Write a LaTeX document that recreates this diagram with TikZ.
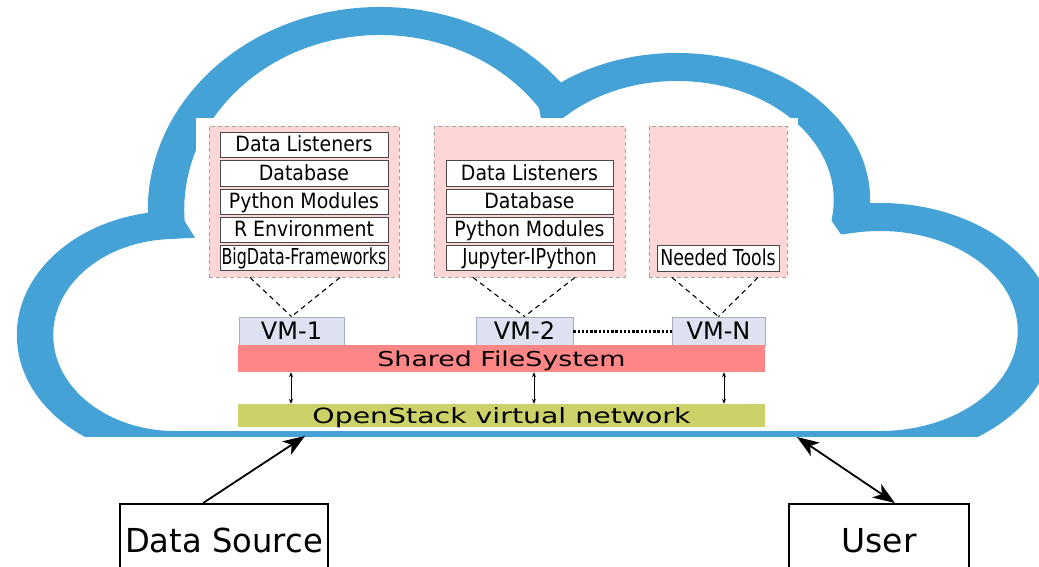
\documentclass[tikz,border=0pt]{standalone}
\usepackage{fontspec}
\setmainfont{DejaVu Sans}
\usetikzlibrary{arrows.meta}
\definecolor{cloudblue}{HTML}{45A2D6}
\definecolor{toolpink}{HTML}{FFD6D6}
\definecolor{tooledge}{HTML}{A3A39B}
\definecolor{vmfill}{HTML}{DDE1F0}
\definecolor{vmedge}{HTML}{A7ADC0}
\definecolor{fsred}{HTML}{FF8686}
\definecolor{netolive}{HTML}{CCD267}
% horizontal squeeze / stretch of a label
\newcommand{\hsq}[2]{\scalebox{#1}[1]{#2}}

\begin{document}
\begin{tikzpicture}[x=1pt, y=-1pt,
  toolset/.style={draw=tooledge, fill=toolpink, dash pattern=on 4pt off 3pt,
    line width=0.9pt, minimum height=151pt, inner sep=0pt},
  layer/.style={draw=black!72, fill=white, line width=1pt, minimum height=25pt,
    inner sep=0pt, font=\fontsize{21}{23}\selectfont, text height=15pt, text depth=2pt},
  condensed/.style={font=\fontsize{22}{24}\selectfont, text height=16pt, text depth=2pt},
  vm/.style={draw=vmedge, fill=vmfill, line width=0.9pt, minimum height=28pt,
    inner sep=0pt, font=\fontsize{24}{26}\selectfont, text height=18.5pt, text depth=1pt},
  bar/.style={minimum width=527pt, inner sep=0pt, text height=16pt, text depth=1pt},
  endpoint/.style={draw=black, line width=1.8pt, fill=white, inner sep=0pt,
    minimum height=72pt, font=\fontsize{33}{36}\selectfont, text height=25pt, text depth=1pt},
  link/.style={black, dash pattern=on 5pt off 4pt, line width=1.1pt},
  bigtip/.tip={Stealth[length=22pt, width=16pt, inset=6pt]},
  smalltip/.tip={Stealth[length=5pt, width=4pt]}]

\useasboundingbox (0,0) rectangle (1039,567);

% the cloud outline, cut flat at its base
\begin{scope}
  \clip (0,0) rectangle (1039,436);
  \begin{scope}[transform canvas={xscale=1.3}, x=0.769231pt]
    \draw[cloudblue, line width=28pt, line join=miter, miter limit=20]
      (175,445) arc[start angle=90, end angle=266.7, x radius=140, y radius=110]
      -- (166.7,224.8) arc[start angle=175.5, end angle=325.5, x radius=214, y radius=189]
      -- (556.5,103.5) arc[start angle=226.5, end angle=367.8, x radius=175, y radius=133]
      -- (851,219) arc[start angle=259.3, end angle=450, x radius=156, y radius=114]
      -- cycle;
  \end{scope}
\end{scope}

% inner panel
\fill[white] (196,118) rectangle (798,430);

% software stacks
\node[toolset, minimum width=190pt] (set1) at (304,201.5) {};
\node[toolset, minimum width=191pt] (set2) at (529.5,201.5) {};
\node[toolset, minimum width=138pt] (set3) at (718,201.5) {};

\node[layer, minimum width=168pt] (a1) at (304,145.5) {\hsq{0.9}{Data Listeners}};
\node[layer, minimum width=168pt] (a2) at (304,173.5) {\hsq{0.9}{Database}};
\node[layer, minimum width=168pt] (a3) at (304,201.5) {\hsq{0.9}{Python Modules}};
\node[layer, minimum width=168pt] (a4) at (304,229.5) {\hsq{0.9}{R Environment}};
\node[layer, condensed, minimum width=168pt] (a5) at (304,257.5) {\hsq{0.72}{BigData-Frameworks}};

\node[layer, minimum width=167pt] (b1) at (529.5,173.5) {\hsq{0.9}{Data Listeners}};
\node[layer, minimum width=167pt] (b2) at (529.5,201.5) {\hsq{0.9}{Database}};
\node[layer, minimum width=167pt] (b3) at (529.5,229.5) {\hsq{0.9}{Python Modules}};
\node[layer, condensed, minimum width=167pt] (b4) at (529.5,257.5) {\hsq{0.8}{Jupyter-IPython}};

\node[layer, condensed, minimum width=122pt, minimum height=26pt] (c1) at (718,258) {\hsq{0.79}{Needed Tools}};

% virtual machines
\node[vm, minimum width=105pt] (vm1) at (291.5,331) {VM-1};
\node[vm, minimum width=97pt] (vm2) at (524.5,331) {VM-2};
\node[vm, minimum width=93pt] (vmn) at (718.5,331) {VM-N};

\draw[link] ([xshift=-54pt]set1.south) -- (vm1.north);
\draw[link] ([xshift=36pt]set1.south) -- (vm1.north);
\draw[link] ([xshift=-56.5pt]set2.south) -- (vm2.north);
\draw[link] ([xshift=45.5pt]set2.south) -- (vm2.north);
\draw[link] ([xshift=-46pt]set3.south) -- (vmn.north);
\draw[link] ([xshift=40pt]set3.south) -- (vmn.north);

\draw[black, line width=3pt, dash pattern=on 2.4pt off 1.8pt] (vm2.east) -- (vmn.west);

% shared layers
\node[bar, fill=fsred, minimum height=27pt, font=\fontsize{20.5}{23}\selectfont]
  (sfs) at (501.5,358.5) {\hsq{1.31}{Shared FileSystem}};
\node[bar, fill=netolive, minimum height=23pt, font=\fontsize{21}{23}\selectfont]
  (net) at (501.5,415.5) {\hsq{1.35}{OpenStack virtual network}};

\draw[{smalltip}-{smalltip}, line width=0.8pt] ([xshift=-210.5pt]sfs.south) -- ([xshift=-210.5pt]net.north);
\draw[{smalltip}-{smalltip}, line width=0.8pt] ([xshift=32.5pt]sfs.south) -- ([xshift=32.5pt]net.north);
\draw[{smalltip}-{smalltip}, line width=0.8pt] ([xshift=222.5pt]sfs.south) -- ([xshift=222.5pt]net.north);

% outside actors
\node[endpoint, minimum width=208pt] (ds) at (224,540) {\hsq{0.975}{Data Source}};
\node[endpoint, minimum width=180pt] (usr) at (879,540) {User};

\coordinate (dsin) at (305,436);
\coordinate (usrio) at (797,437);

\draw[-{bigtip}, line width=1.8pt] ([xshift=-21pt]ds.north) -- (dsin);
\draw[{bigtip}-{bigtip}, line width=1.8pt] (usrio) -- ([xshift=16pt]usr.north);

\end{tikzpicture}
\end{document}
